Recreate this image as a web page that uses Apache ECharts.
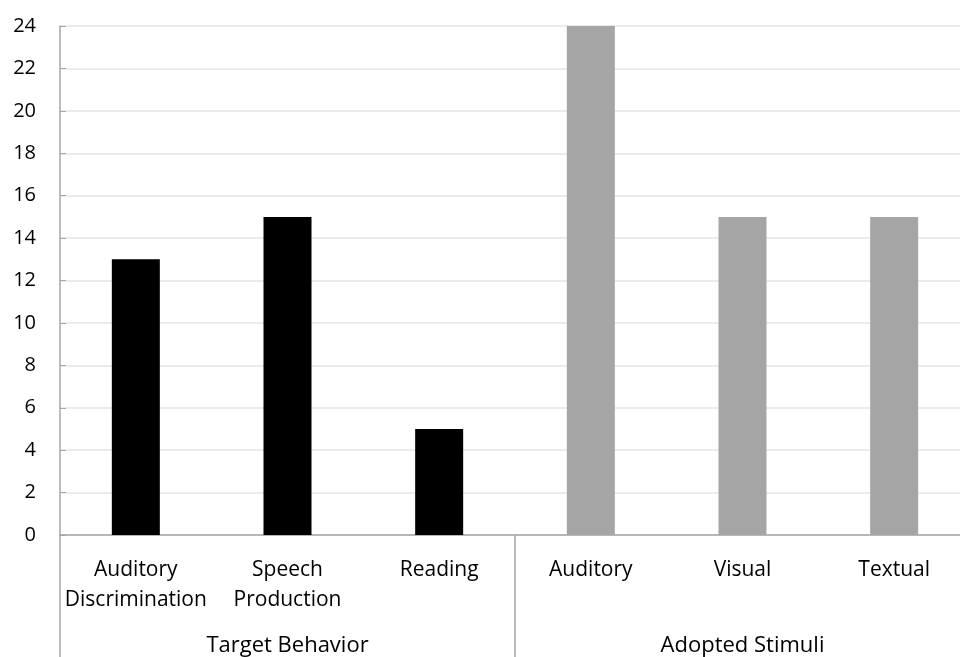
<!DOCTYPE html>
<html>
<head>
<meta charset="utf-8">
<script src="https://cdn.jsdelivr.net/npm/echarts@6/dist/echarts.min.js"></script>
<style>html,body{margin:0;padding:0;background:#fff;overflow:hidden;width:960px;height:657px}#c{width:972px;height:657px}</style>
</head>
<body>
<div id="c"></div>
<script>
const categories = ['Auditory\nDiscrimination', 'Speech\nProduction', 'Reading', 'Auditory', 'Visual', 'Textual'];
const groups = ['Target Behavior', 'Adopted Stimuli'];
const targetBehavior = [13, 15, 5, '-', '-', '-'];
const adoptedStimuli = ['-', '-', '-', 24, 15, 15];
const yTicks = {min: 0, max: 24, interval: 2};

const FONT = 'Open Sans';
const chart = echarts.init(document.getElementById('c'), null, {renderer: 'canvas'});
chart.setOption({
  animation: false,
  backgroundColor: '#fff',
  grid: {left: 60, top: 26, right: 2, bottom: 122, containLabel: false, outerBoundsMode: 'none'},
  xAxis: [
    {
      type: 'category', data: categories, position: 'bottom',
      axisLine: {show: true, lineStyle: {color: '#a6a6a6', width: 1.5}},
      axisTick: {show: false},
      axisLabel: {fontFamily: FONT, fontSize: 21, color: '#000', lineHeight: 30, margin: 20, interval: 0}
    },
    {
      type: 'category', data: groups, position: 'bottom',
      axisLine: {show: false},
      axisTick: {show: true, length: 122, inside: false, lineStyle: {color: '#a6a6a6', width: 1.5}},
      axisLabel: {fontFamily: FONT, fontSize: 22, color: '#000', margin: 100}
    }
  ],
  yAxis: {
    type: 'value', min: yTicks.min, max: yTicks.max, interval: yTicks.interval,
    axisLine: {show: true, lineStyle: {color: '#a6a6a6', width: 1.5}},
    axisTick: {show: true, inside: true, length: 6, lineStyle: {color: '#a6a6a6'}},
    splitLine: {lineStyle: {color: '#e4e4e4', width: 1.5}},
    axisLabel: {fontFamily: FONT, fontSize: 20, color: '#000', margin: 24}
  },
  series: [
    {name: groups[0], type: 'bar', stack: 's', barWidth: 48, data: targetBehavior, itemStyle: {color: '#000000'}},
    {name: groups[1], type: 'bar', stack: 's', barWidth: 48, data: adoptedStimuli, itemStyle: {color: '#a5a5a5'}}
  ]
});
</script>
</body>
</html>
